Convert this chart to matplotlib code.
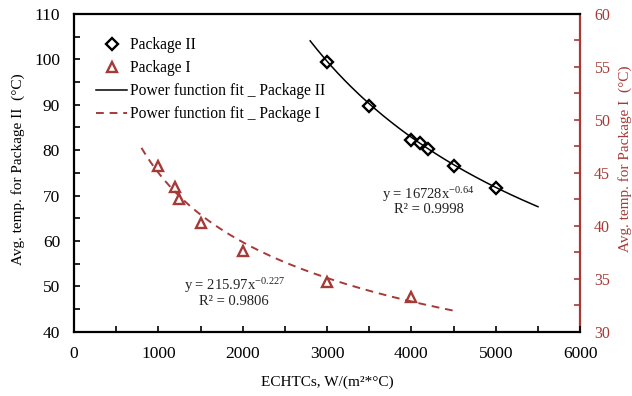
import numpy as np
import matplotlib
matplotlib.use("Agg")
import matplotlib.pyplot as plt
from matplotlib.ticker import MultipleLocator

plt.rcParams['font.family'] = ['Liberation Serif', 'DejaVu Serif']
plt.rcParams['mathtext.fontset'] = 'stix'

# Data
x_pkg2 = [3000, 3500, 4000, 4100, 4200, 4500, 5000]
y_pkg2 = [99.4, 89.8, 82.3, 81.5, 80.2, 76.6, 71.6]
x_pkg1 = [1000, 1200, 1250, 1500, 2000, 3000, 4000]
y_pkg1 = [45.6, 43.7, 42.5, 40.3, 37.6, 34.7, 33.3]
fit2_a, fit2_b = 16728, -0.64
fit1_a, fit1_b = 215.97, -0.227
fit2_range = (2800, 5500)
fit1_range = (800, 4500)

RED = '#A53A37'
TXT = '#222222'

fig = plt.figure(figsize=(6.32, 3.96), dpi=100)
ax = fig.add_axes([0.117, 0.162, 0.801, 0.803])
ax2 = ax.twinx()

xf2 = np.linspace(*fit2_range, 200)
xf1 = np.linspace(*fit1_range, 200)
l_fit2, = ax.plot(xf2, fit2_a * xf2 ** fit2_b, color='black', lw=1.1)
l_fit1, = ax2.plot(xf1, fit1_a * xf1 ** fit1_b, color=RED, lw=1.4, ls=(0, (4, 3)))
p2, = ax.plot(x_pkg2, y_pkg2, ls='none', marker='D', ms=6.5, mfc='none', mec='black', mew=1.7)
p1, = ax2.plot(x_pkg1, y_pkg1, ls='none', marker='^', ms=7.5, mfc='none', mec=RED, mew=1.7)

ax.set_xlim(0, 6000)
ax.set_ylim(40, 110)
ax2.set_ylim(30, 60)
ax.xaxis.set_major_locator(MultipleLocator(1000))
ax.xaxis.set_minor_locator(MultipleLocator(500))
ax.yaxis.set_major_locator(MultipleLocator(10))
ax.yaxis.set_minor_locator(MultipleLocator(5))
ax2.yaxis.set_major_locator(MultipleLocator(5))
ax2.yaxis.set_minor_locator(MultipleLocator(2.5))

ax.tick_params(axis='both', which='both', direction='in', length=4, width=1.2, labelsize=12.5)
ax.tick_params(axis='x', which='both', top=False, pad=10)
ax.tick_params(axis='y', which='both', pad=10)
ax2.tick_params(axis='y', which='both', direction='in', length=4, width=1.2, labelsize=11.5,
                colors=RED, pad=10)

for s in ['left', 'bottom', 'top']:
    ax.spines[s].set_linewidth(1.6)
ax.spines['right'].set_visible(False)
ax2.spines['right'].set_color(RED)
ax2.spines['right'].set_linewidth(1.6)
for s in ['left', 'bottom', 'top']:
    ax2.spines[s].set_visible(False)

ax.set_xlabel('ECHTCs, W/(m²*°C)', fontsize=11, labelpad=10)
ax.set_ylabel('Avg. temp. for Package II  (°C)', fontsize=11)
ax.yaxis.set_label_coords(-0.097, 0.51)
ax2.set_ylabel('Avg. temp. for Package I  (°C)', fontsize=11, color=RED)
ax2.yaxis.set_label_coords(1.075, 0.545)

ax.text(4204, 70.3, r'y = 16728x$^{\mathregular{-0.64}}$', fontsize=10.5, ha='center', va='center', color=TXT)
ax.text(4204, 67.0, 'R² = 0.9998', fontsize=10.5, ha='center', va='center', color=TXT)
ax.text(1900, 50.3, r'y = 215.97x$^{\mathregular{-0.227}}$', fontsize=10.5, ha='center', va='center', color=TXT)
ax.text(1900, 46.7, 'R² = 0.9806', fontsize=10.5, ha='center', va='center', color=TXT)

leg = ax.legend([p2, p1, l_fit2, l_fit1],
                ['Package II', 'Package I', 'Power function fit _ Package II',
                 'Power function fit _ Package I'],
                loc='upper left', bbox_to_anchor=(0.032, 0.946), frameon=False, fontsize=11.2,
                handlelength=2.0, handletextpad=0.15, labelspacing=0.45, borderaxespad=0)
ax.set_zorder(ax2.get_zorder() + 1)
ax.patch.set_visible(False)

fig.savefig('out.png', dpi=100)
